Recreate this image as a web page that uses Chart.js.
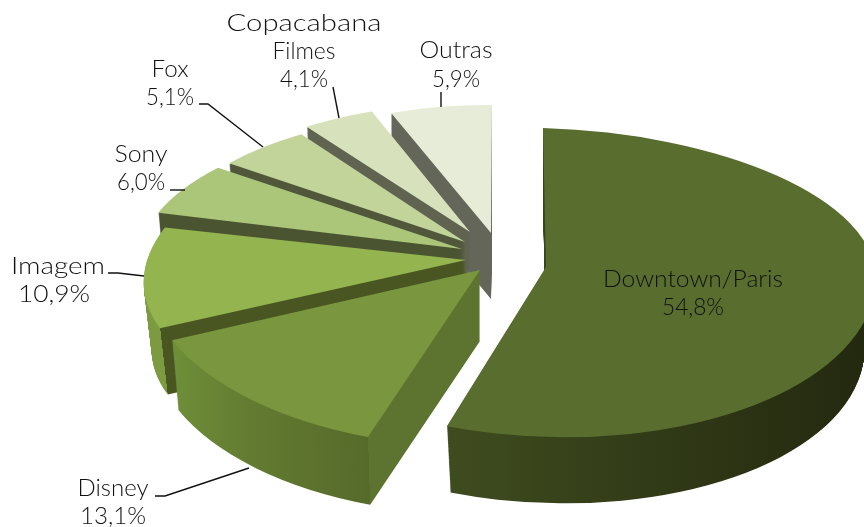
<!DOCTYPE html>
<html>
<head>
<meta charset="utf-8">
<style>html,body{margin:0;padding:0;background:#fff;overflow:hidden}canvas{display:block}</style>
<script src="https://cdn.jsdelivr.net/npm/chart.js@4/dist/chart.umd.min.js"></script>
</head>
<body>
<canvas id="c" width="864" height="527"></canvas>
<script>
const categories = ["Downtown/Paris","Disney","Imagem","Sony","Fox","Copacabana Filmes","Outras"];
const shares = [54.8,13.1,10.9,6.0,5.1,4.1,5.9];
const topColors = ["#586d2e","#7a963e","#93b44f","#abc579","#c2d49a","#d7e2bc","#e6ecd8"];

// 3D projection of each exploded slice: where its tip lands and how the unit circle is sheared
const frames = [
  {x:546,y:267,A:330,C:3,E:10,D:139,lowerC:0,lowerD:170,depth:72,taper:.035,
   wall:[[447,"#3f4c1f"],[600,"#353f19"],[864,"#23290f"]]},
  {x:480,y:270,A:335,C:-12,E:6,D:177,depth:71,taper:.02,
   wall:[[172,"#6e8f39"],[250,"#637b31"],["corner","#566a2a"],["corner","#5d7431"],[490,"#5d7431"]]},
  {x:466,y:260,A:320,C:-39,E:-4,D:151,depth:68,taper:.025,
   wall:[[144,"#7c9a40"],["corner","#7c9a40"],["corner","#4a5622"],[480,"#4a5622"]]},
  {x:462,y:249,A:320,C:-28,E:4,D:134,depth:66,taper:.02,wall:[[0,"#4b5430"],[864,"#4b5430"]]},
  {x:465,y:242,A:303,C:-18,E:3,D:131,depth:66,taper:.02,wall:[[0,"#50573a"],[864,"#50573a"]]},
  {x:470,y:232,A:286,C:-6,E:3,D:128,depth:66,taper:.02,wall:[[0,"#5f6350"],[864,"#5f6350"]]},
  {x:491,y:233,A:278,C:-1,E:2,D:128,depth:66,taper:.0,wall:[[0,"#646659"],[864,"#646659"]]}
];

const textFont = "300 23px Lato";
const textColor = "#111111";
const labelPlaces = [
  {x:[693,693],y:[287,315],w:[180,62]},
  {x:[113,113],y:[496,524],w:[71,66]},
  {x:[58,54],y:[274,302],w:[94,72]},
  {x:[141,141],y:[162,190],w:[53,48]},
  {x:[170,170],y:[77,105],w:[37,48]},
  {x:[304,304,304],y:[31,59,87],w:[155,63,48]},
  {x:[456,456],y:[58,87],w:[73,48]}
];
const leaders = [
  null,
  [[155,496],[165,496],[249,468]],
  [[108,273],[118,273],[144,276]],
  [[170,190],[185,190]],
  [[199,104],[208,104],[263,147]],
  [[333,87],[339,118]],
  [[441,92],[441,107]]
];

function labelLines(i){
  const name = categories[i]==="Copacabana Filmes" ? ["Copacabana","Filmes"] : [categories[i]];
  return name.concat(shares[i].toFixed(1).replace(".",",")+"%");
}

function paintFor(ctx,arc,f,part,s){
  const R=arc.outerRadius, a=s*f.A/R, c=s*part.C/R;
  const th=arc.startAngle+Math.PI/2, u=Math.sin(th), v=-Math.cos(th);
  const corner=f.x+s*(f.A*u+part.C*v);
  const stops=f.wall.map(w=>[w[0]==="corner"?corner:w[0],w[1]]);
  const x0=stops[0][0], x1=stops[stops.length-1][0];
  const k=a*a+c*c, t0=(x0-f.x)/k, t1=(x1-f.x)/k;
  const g=ctx.createLinearGradient(arc.x+t0*a,arc.y+t0*c,arc.x+t1*a,arc.y+t1*c);
  stops.forEach(w=>g.addColorStop(Math.max(0,Math.min(1,(w[0]-x0)/(x1-x0))),w[1]));
  return g;
}

function drawPart(ctx,arc,f,part,s,dy,fill){
  const R=arc.outerRadius, base=arc.options;
  ctx.save();
  ctx.translate(f.x,f.y+dy);
  ctx.transform(s*f.A/R,s*f.E/R,s*part.C/R,s*part.D/R,0,0);
  ctx.translate(-arc.x,-arc.y);
  if(part.clip){
    ctx.beginPath();
    ctx.rect(arc.x-R-5,part.clip<0?arc.y-R-5:arc.y-3,2*R+10,R+8);
    ctx.clip();
  }
  const o=Object.create(base);
  o.backgroundColor=fill===null?paintFor(ctx,arc,f,part,s):fill;
  o.borderWidth=0;
  arc.options=o;
  arc.draw(ctx);
  arc.options=base;
  ctx.restore();
}

const pie3d={
  id:"pie3d",
  beforeDatasetsDraw(chart){
    const ctx=chart.ctx, arcs=chart.getDatasetMeta(0).data;
    for(let i=arcs.length-1;i>=0;i--){
      const f=frames[i], arc=arcs[i];
      const parts=f.lowerD
        ?[{C:f.C,D:f.D,clip:-1},{C:f.lowerC,D:f.lowerD,clip:1}]
        :[{C:f.C,D:f.D}];
      for(let d=f.depth;d>=1;d--){
        const s=1-f.taper*d/f.depth;
        parts.forEach(p=>drawPart(ctx,arc,f,p,s,d,null));
      }
      parts.forEach(p=>drawPart(ctx,arc,f,p,1,0,topColors[i]));
    }
    return false;
  },
  afterDraw(chart){
    const ctx=chart.ctx;
    ctx.save();
    ctx.strokeStyle="#111";
    ctx.lineWidth=1.4;
    leaders.forEach(l=>{
      if(!l)return;
      ctx.beginPath();
      l.forEach((p,j)=>j?ctx.lineTo(p[0],p[1]):ctx.moveTo(p[0],p[1]));
      ctx.stroke();
    });
    ctx.font=textFont;
    ctx.fillStyle=textColor;
    ctx.textAlign="center";
    ctx.textBaseline="alphabetic";
    labelPlaces.forEach((pl,i)=>{
      labelLines(i).forEach((t,j)=>{
        const stretch=pl.w[j]/ctx.measureText(t).width;
        ctx.save();
        ctx.translate(pl.x[j],pl.y[j]);
        ctx.scale(stretch,1);
        ctx.fillText(t,0,0);
        ctx.restore();
      });
    });
    ctx.restore();
  }
};

new Chart(document.getElementById("c"),{
  type:"pie",
  data:{labels:categories,datasets:[{data:shares,backgroundColor:topColors,borderWidth:0}]},
  options:{
    responsive:false,
    animation:false,
    events:[],
    layout:{padding:0},
    plugins:{legend:{display:false},tooltip:{enabled:false}}
  },
  plugins:[pie3d]
});
</script>
</body>
</html>
